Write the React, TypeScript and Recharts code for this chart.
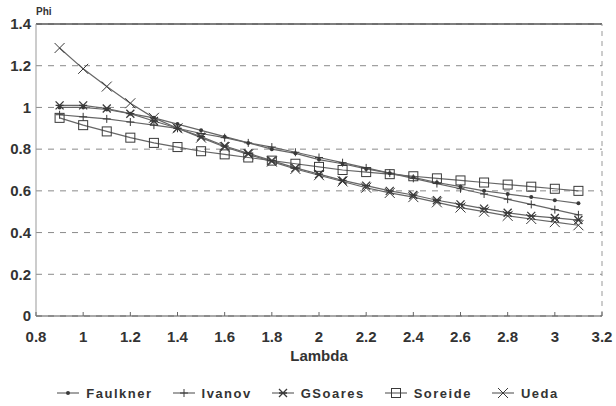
import React from 'react';
import { LineChart, Line, XAxis, YAxis, CartesianGrid, ReferenceLine, Legend } from 'recharts';

// Slenderness values (Lambda) shared by every curve
const lambda = [0.9, 1.0, 1.1, 1.2, 1.3, 1.4, 1.5, 1.6, 1.7, 1.8, 1.9, 2.0, 2.1, 2.2, 2.3, 2.4, 2.5, 2.6, 2.7, 2.8, 2.9, 3.0, 3.1];

// Strength ratio Phi for each method
const faulkner = [1.0, 1.0, 0.99, 0.97, 0.95, 0.92, 0.89, 0.86, 0.83, 0.8, 0.78, 0.75, 0.73, 0.705, 0.685, 0.665, 0.64, 0.62, 0.6, 0.585, 0.57, 0.555, 0.54];
const ivanov = [0.965, 0.955, 0.945, 0.93, 0.915, 0.9, 0.875, 0.855, 0.83, 0.81, 0.785, 0.76, 0.735, 0.71, 0.685, 0.66, 0.635, 0.61, 0.585, 0.56, 0.535, 0.51, 0.485];
const gSoares = [1.01, 1.01, 0.995, 0.97, 0.935, 0.9, 0.86, 0.815, 0.78, 0.745, 0.71, 0.68, 0.65, 0.625, 0.6, 0.58, 0.555, 0.535, 0.515, 0.495, 0.48, 0.47, 0.46];
const soreide = [0.95, 0.915, 0.885, 0.855, 0.83, 0.81, 0.79, 0.775, 0.76, 0.745, 0.73, 0.715, 0.7, 0.69, 0.68, 0.67, 0.66, 0.65, 0.64, 0.63, 0.62, 0.61, 0.6];
const ueda = [1.285, 1.185, 1.1, 1.02, 0.95, 0.9, 0.855, 0.81, 0.775, 0.74, 0.705, 0.675, 0.645, 0.615, 0.59, 0.57, 0.545, 0.52, 0.5, 0.48, 0.465, 0.45, 0.435];

const xTicks = [0.8, 1, 1.2, 1.4, 1.6, 1.8, 2, 2.2, 2.4, 2.6, 2.8, 3, 3.2];
const yTicks = [0, 0.2, 0.4, 0.6, 0.8, 1, 1.2, 1.4];

const seriesNames = ['Faulkner', 'Ivanov', 'GSoares', 'Soreide', 'Ueda'];
const seriesMarkers = ['dot', 'plus', 'star', 'square', 'cross'];

const data = lambda.map((x, i) => ({
  x,
  Faulkner: faulkner[i],
  Ivanov: ivanov[i],
  GSoares: gSoares[i],
  Soreide: soreide[i],
  Ueda: ueda[i],
}));

const LINE = '#666';
const MARK = '#3a3a3a';
const TEXT = '#333';
const FONT = '"Liberation Sans", Arial, Helvetica, sans-serif';

type MarkerProps = { kind: string; cx: number; cy: number };

function Marker({ kind, cx, cy }: MarkerProps) {
  if (cx == null || cy == null) return null;
  switch (kind) {
    case 'dot':
      return <circle cx={cx} cy={cy} r={2} fill={MARK} stroke="none" />;
    case 'plus':
      return (
        <path d={`M${cx - 4},${cy}H${cx + 4}M${cx},${cy - 4}V${cy + 4}`} stroke={MARK} strokeWidth={1} fill="none" />
      );
    case 'star':
      return (
        <path
          d={`M${cx - 4},${cy - 4}L${cx + 4},${cy + 4}M${cx - 4},${cy + 4}L${cx + 4},${cy - 4}M${cx - 4},${cy}H${cx + 4}`}
          stroke={MARK}
          strokeWidth={1.3}
          fill="none"
        />
      );
    case 'square':
      return <rect x={cx - 4.5} y={cy - 4.5} width={9} height={9} stroke={MARK} strokeWidth={1} fill="none" />;
    case 'cross':
      return (
        <path
          d={`M${cx - 5},${cy - 5}L${cx + 5},${cy + 5}M${cx - 5},${cy + 5}L${cx + 5},${cy - 5}`}
          stroke={MARK}
          strokeWidth={1}
          fill="none"
        />
      );
    default:
      return null;
  }
}

function XTick(props: any) {
  const { x, y, payload } = props;
  return (
    <g>
      <line x1={x} x2={x} y1={y} y2={y - 4} stroke="#666" strokeWidth={1} />
      <text x={x} y={y + 26} textAnchor="middle" fill={TEXT} fontSize={15} fontWeight={700} fontFamily={FONT}>
        {payload.value}
      </text>
    </g>
  );
}

function LegendContent() {
  return (
    <div
      style={{
        display: 'flex',
        justifyContent: 'center',
        alignItems: 'center',
        gap: 20,
        width: 616,
        height: 22,
        fontFamily: FONT,
        fontWeight: 700,
        fontSize: 13,
        letterSpacing: 1.5,
        color: TEXT,
      }}
    >
      {seriesNames.map((name, i) => (
        <div key={name} style={{ display: 'flex', alignItems: 'center', gap: 7 }}>
          <svg width={22} height={12}>
            <line x1={0} x2={22} y1={6} y2={6} stroke={LINE} strokeWidth={1.2} />
            <Marker kind={seriesMarkers[i]} cx={11} cy={6} />
          </svg>
          <span>{name}</span>
        </div>
      ))}
    </div>
  );
}

export default function App() {
  return (
    <div style={{ position: 'absolute', left: 0, top: 0, background: '#fff' }}>
      <LineChart width={616} height={406} data={data} margin={{ top: 24, right: 14, left: 6, bottom: 2 }}>
        <CartesianGrid vertical={false} stroke="#8a8a8a" strokeDasharray="6 6" />
        <XAxis
          type="number"
          dataKey="x"
          domain={[0.8, 3.2]}
          ticks={xTicks}
          interval={0}
          height={66}
          tickSize={0}
          tickMargin={0}
          tickLine={false}
          axisLine={{ stroke: '#555', strokeWidth: 1.2 }}
          tick={<XTick />}
          label={{
            value: 'Lambda',
            position: 'insideBottom',
            offset: 21,
            fill: TEXT,
            fontSize: 15,
            fontWeight: 700,
            fontFamily: FONT,
          }}
        />
        <YAxis
          type="number"
          domain={[0, 1.4]}
          ticks={yTicks}
          interval={0}
          width={30}
          tickSize={0}
          tickMargin={5}
          tickLine={false}
          axisLine={{ stroke: '#999', strokeWidth: 1 }}
          tick={{ fill: TEXT, fontSize: 15, fontWeight: 700, fontFamily: FONT }}
        />
        <ReferenceLine
          y={1.4}
          stroke="#555"
          strokeWidth={1.5}
          label={(p: any) => (
            <text
              x={p.viewBox.x}
              y={p.viewBox.y - 9}
              fill={TEXT}
              fontSize={10}
              fontWeight={700}
              fontFamily={FONT}
            >
              Phi
            </text>
          )}
        />
        <ReferenceLine x={3.2} stroke="#999" strokeDasharray="5 5" />
        {seriesNames.map((name, i) => (
          <Line
            key={name}
            type="linear"
            dataKey={name}
            stroke={LINE}
            strokeWidth={1.2}
            isAnimationActive={false}
            activeDot={false}
            dot={(p: any) => <Marker key={`${name}-${p.index}`} kind={seriesMarkers[i]} cx={p.cx} cy={p.cy} />}
          />
        ))}
        <Legend verticalAlign="bottom" height={22} wrapperStyle={{ left: 0, width: 616 }} content={<LegendContent />} />
      </LineChart>
    </div>
  );
}
